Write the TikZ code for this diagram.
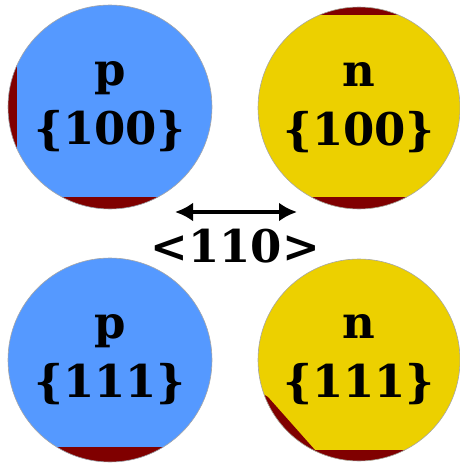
\documentclass[tikz,border=0pt]{standalone}
\usepackage{fontspec}
\setmainfont{DejaVu Serif}
\usetikzlibrary{arrows.meta}
\definecolor{pblue}{RGB}{85,153,255}
\definecolor{nyellow}{RGB}{236,208,0}
\definecolor{oxred}{RGB}{128,0,0}
\begin{document}
\begin{tikzpicture}[x=1pt, y=-1pt,
    wafer/.style={circle, draw=gray!70, line width=0.6pt, minimum size=204pt, inner sep=0pt},
    lbl/.style={align=center, font=\fontsize{45}{59}\selectfont\bfseries},
    dir/.style={line width=4.5pt, {Latex[length=18pt,width=19pt]}-{Latex[length=18pt,width=19pt]}}
]
    \useasboundingbox (0,0) rectangle (460,463);

    % p {100}
    \fill[pblue] (110,107) circle (102);
    \begin{scope}
        \clip (110,107) circle (102);
        \fill[oxred] (0,0) rectangle (17,220);
        \fill[oxred] (0,197) rectangle (220,220);
    \end{scope}
    \node[wafer] (p100) at (110,107) {};
    \node[lbl] at (p100) {p\\{\{100\}}};

    % n {100}
    \fill[nyellow] (359,108) circle (101);
    \begin{scope}
        \clip (359,108) circle (101);
        \fill[oxred] (250,0) rectangle (460,15);
        \fill[oxred] (250,197) rectangle (460,220);
    \end{scope}
    \node[wafer, minimum size=202pt] (n100) at (359,108) {};
    \node[lbl] at (n100) {n\\{\{100\}}};

    % p {111}
    \fill[pblue] (110,360) circle (102);
    \begin{scope}
        \clip (110,360) circle (102);
        \fill[oxred] (0,447) rectangle (220,463);
    \end{scope}
    \node[wafer] (p111) at (110,360) {};
    \node[lbl] at (p111) {p\\{\{111\}}};

    % n {111}
    \fill[nyellow] (359,360) circle (101);
    \begin{scope}
        \clip (359,360) circle (101);
        \fill[oxred] (250,386) -- (268,397) -- (315,450) -- (460,450) -- (460,463) -- (250,463) -- cycle;
    \end{scope}
    \node[wafer, minimum size=202pt] (n111) at (359,360) {};
    \node[lbl] at (n111) {n\\{\{111\}}};

    % direction
    \node[lbl] (flat) at (235,246) {<110>};
    \coordinate (fl) at (175,212);
    \coordinate (fr) at (297,212);
    \draw[dir] (fl) -- (fr);
\end{tikzpicture}
\end{document}
